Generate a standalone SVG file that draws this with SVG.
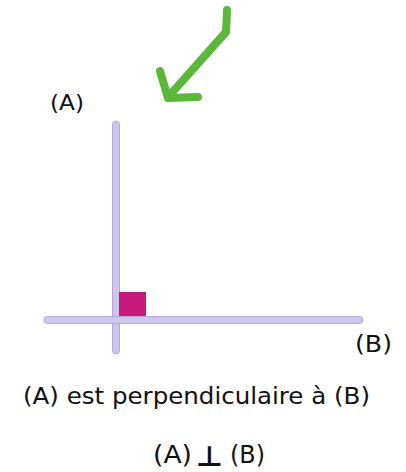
<svg xmlns="http://www.w3.org/2000/svg" width="406" height="472" viewBox="0 0 406 472">
<style>
.ln{fill:#cdc5ea;stroke:#b3a8dc;stroke-width:1}
.t{font-family:"Comic Sans MS","DejaVu Sans",sans-serif;fill:#111}
.arr{fill:none;stroke:#5bb83b;stroke-width:8;stroke-linecap:round;stroke-linejoin:round}
</style>
<rect width="406" height="472" fill="#fff"/>
<g id="lineA"><rect class="ln" x="112.5" y="121" width="7" height="233" rx="3.5"/></g>
<g id="lineB"><rect class="ln" x="44" y="316.5" width="319" height="7" rx="3.5"/></g>
<g id="rightAngle"><rect x="119" y="292" width="27" height="24" fill="#c8197e"/></g>
<g id="arrow">
<path class="arr" d="M227,10 L226,32 L169,96"/>
<path class="arr" d="M160,71 L168,98 L198,97"/>
</g>
<g id="labels">
<text class="t" x="50" y="110" font-size="22" textLength="34" lengthAdjust="spacingAndGlyphs">(A)</text>
<text class="t" x="355" y="352" font-size="23" textLength="37" lengthAdjust="spacingAndGlyphs">(B)</text>
<text class="t" x="23" y="404" font-size="23" textLength="347" lengthAdjust="spacingAndGlyphs">(A) est perpendiculaire à (B)</text>
<text class="t" x="153" y="463" font-size="24" textLength="39" lengthAdjust="spacingAndGlyphs">(A)</text>
<text class="t" x="196" y="465.5" font-size="28" font-weight="bold" textLength="27" lengthAdjust="spacingAndGlyphs">⊥</text>
<text class="t" x="230" y="463" font-size="24" textLength="35" lengthAdjust="spacingAndGlyphs">(B)</text>
</g>
</svg>
